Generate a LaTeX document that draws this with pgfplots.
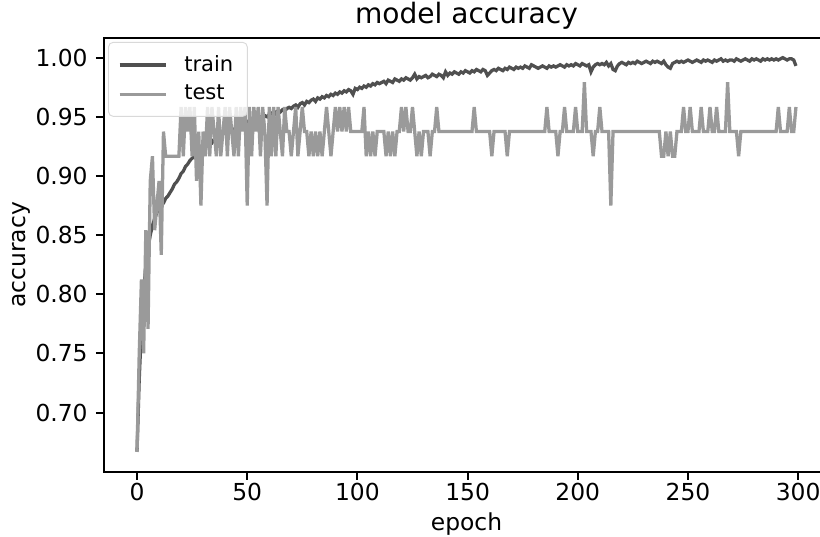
\documentclass[border=0pt]{standalone}
\usepackage{fontspec}
\setmainfont{DejaVu Sans}
\usepackage{pgfplots}
\pgfplotsset{compat=1.18}

\definecolor{trainc}{HTML}{505050}
\definecolor{testc}{HTML}{9A9A9A}

\begin{document}
\begin{tikzpicture}
\begin{axis}[
  scale only axis,
  width=309.9pt, height=185.5pt,
  xmin=-14.95, xmax=313.95, ymin=0.65, ymax=1.0167,
  xtick={0,50,...,300},
  ytick={0.70,0.75,...,1.00},
  yticklabel style={/pgf/number format/.cd, fixed, fixed zerofill, precision=2},
  xticklabel style={yshift=2pt},
  /pgf/number format/assume math mode=true,
  tick label style={font=\fontsize{10}{12}\selectfont},
  label style={font=\fontsize{10}{12}\selectfont},
  xlabel={epoch}, ylabel={accuracy},
  xlabel style={at={([yshift=-25pt]axis description cs:0.5,0)}, anchor=base},
  ylabel style={at={([xshift=-33.4pt]axis description cs:0,0.5)}, anchor=base},
  title={model accuracy},
  every axis title shift=0pt,
  title style={font=\fontsize{12}{14}\selectfont, at={(0.5,1)}, anchor=base, yshift=6pt},
  tick align=outside, xtick pos=bottom, ytick pos=left,
  major tick length=3.5pt,
  every tick/.style={black, line width=0.8pt},
  axis line style={line width=0.8pt},
  legend style={at={(axis description cs:0,1)}, anchor=north west,
    xshift=1.7pt, yshift=-1.7pt, draw=black!15,
    rounded corners=2pt, fill=white, fill opacity=0.8, text opacity=1,
    font=\fontsize{9}{11}\selectfont, inner xsep=4pt, inner ysep=3.5pt,
    row sep=0.5pt},
  legend cell align=left,
  legend image code/.code={\draw[#1] (0pt,0pt) -- (20pt,0pt); \path (25pt,0pt);},
]
% train accuracy
\addplot[trainc, line width=1.4pt] coordinates {
(0,0.667)(1,0.728)(2,0.772)(3,0.803)(4,0.824)(5,0.839)(6,0.850)(7,0.858)(8,0.864)(9,0.869)
(10,0.872)(11,0.875)(12,0.877)(13,0.881)(14,0.883)(15,0.886)(16,0.889)(17,0.893)(18,0.895)(19,0.898)
(20,0.902)(21,0.904)(22,0.908)(23,0.910)(24,0.913)(25,0.915)(26,0.916)(27,0.919)(28,0.921)(29,0.922)
(30,0.924)(31,0.925)(32,0.927)(33,0.929)(34,0.928)(35,0.931)(36,0.932)(37,0.934)(38,0.933)(39,0.936)
(40,0.937)(41,0.936)(42,0.939)(43,0.940)(44,0.939)(45,0.941)(46,0.942)(47,0.944)(48,0.943)(49,0.945)
(50,0.946)(51,0.945)(52,0.947)(53,0.948)(54,0.947)(55,0.949)(56,0.950)(57,0.949)(58,0.951)(59,0.950)
(60,0.952)(61,0.953)(62,0.951)(63,0.954)(64,0.955)(65,0.954)(66,0.956)(67,0.955)(68,0.957)(69,0.958)
(70,0.957)(71,0.959)(72,0.960)(73,0.958)(74,0.961)(75,0.962)(76,0.960)(77,0.963)(78,0.962)(79,0.964)
(80,0.965)(81,0.963)(82,0.966)(83,0.965)(84,0.967)(85,0.966)(86,0.968)(87,0.967)(88,0.969)(89,0.968)
(90,0.970)(91,0.969)(92,0.971)(93,0.970)(94,0.972)(95,0.971)(96,0.973)(97,0.972)(98,0.969)(99,0.974)
(100,0.973)(101,0.975)(102,0.974)(103,0.976)(104,0.975)(105,0.977)(106,0.976)(107,0.978)(108,0.977)(109,0.979)
(110,0.978)(111,0.979)(112,0.980)(113,0.978)(114,0.981)(115,0.980)(116,0.979)(117,0.982)(118,0.981)(119,0.980)
(120,0.982)(121,0.981)(122,0.983)(123,0.982)(124,0.981)(125,0.983)(126,0.986)(127,0.982)(128,0.984)(129,0.983)
(130,0.984)(131,0.985)(132,0.983)(133,0.984)(134,0.986)(135,0.985)(136,0.984)(137,0.986)(138,0.985)(139,0.983)
(140,0.988)(141,0.985)(142,0.987)(143,0.986)(144,0.988)(145,0.987)(146,0.986)(147,0.988)(148,0.987)(149,0.989)
(150,0.988)(151,0.987)(152,0.989)(153,0.988)(154,0.990)(155,0.989)(156,0.988)(157,0.990)(158,0.989)(159,0.985)
(160,0.987)(161,0.989)(162,0.990)(163,0.989)(164,0.991)(165,0.990)(166,0.989)(167,0.991)(168,0.990)(169,0.992)
(170,0.991)(171,0.990)(172,0.992)(173,0.991)(174,0.992)(175,0.991)(176,0.993)(177,0.992)(178,0.991)(179,0.994)
(180,0.993)(181,0.992)(182,0.991)(183,0.992)(184,0.993)(185,0.992)(186,0.991)(187,0.993)(188,0.992)(189,0.993)
(190,0.992)(191,0.993)(192,0.994)(193,0.993)(194,0.992)(195,0.994)(196,0.993)(197,0.994)(198,0.993)(199,0.995)
(200,0.994)(201,0.993)(202,0.995)(203,0.994)(204,0.993)(205,0.994)(206,0.988)(207,0.992)(208,0.994)(209,0.995)
(210,0.994)(211,0.995)(212,0.994)(213,0.996)(214,0.993)(215,0.995)(216,0.990)(217,0.989)(218,0.993)(219,0.995)
(220,0.996)(221,0.995)(222,0.994)(223,0.996)(224,0.995)(225,0.996)(226,0.995)(227,0.997)(228,0.996)(229,0.995)
(230,0.996)(231,0.997)(232,0.996)(233,0.995)(234,0.997)(235,0.996)(236,0.997)(237,0.996)(238,0.995)(239,0.997)
(240,0.994)(241,0.992)(242,0.991)(243,0.995)(244,0.996)(245,0.997)(246,0.996)(247,0.997)(248,0.996)(249,0.997)
(250,0.998)(251,0.997)(252,0.996)(253,0.997)(254,0.998)(255,0.997)(256,0.996)(257,0.998)(258,0.997)(259,0.998)
(260,0.997)(261,0.996)(262,0.998)(263,0.997)(264,0.998)(265,0.999)(266,0.997)(267,0.998)(268,0.997)(269,0.998)
(270,0.998)(271,0.997)(272,0.999)(273,0.998)(274,0.997)(275,0.998)(276,0.999)(277,0.998)(278,0.997)(279,0.999)
(280,0.998)(281,0.999)(282,0.998)(283,0.997)(284,0.999)(285,0.998)(286,0.999)(287,0.998)(288,0.999)(289,0.998)
(290,0.999)(291,0.998)(292,0.999)(293,1.000)(294,0.999)(295,0.998)(296,0.999)(297,0.999)(298,0.998)(299,0.993)
};
\addlegendentry{train}
% test accuracy
\addplot[testc, line width=1.4pt] coordinates {
(0,0.6667)(1,0.7500)(2,0.8125)(3,0.7500)(4,0.8542)(5,0.7708)(6,0.8958)(7,0.9167)(8,0.8542)(9,0.8750)
(10,0.8958)(11,0.8333)(12,0.9375)(13,0.9167)(14,0.9167)(15,0.9167)(16,0.9167)(17,0.9167)(18,0.9167)(19,0.9167)
(20,0.9583)(21,0.9167)(22,0.9583)(23,0.9375)(24,0.9583)(25,0.9167)(26,0.9583)(27,0.8958)(28,0.9375)(29,0.8750)
(30,0.9375)(31,0.9167)(32,0.9583)(33,0.9167)(34,0.9583)(35,0.9375)(36,0.9167)(37,0.9583)(38,0.9167)(39,0.9375)
(40,0.9583)(41,0.9167)(42,0.9583)(43,0.9375)(44,0.9167)(45,0.9583)(46,0.9167)(47,0.9583)(48,0.9375)(49,0.9583)
(50,0.8750)(51,0.9583)(52,0.9167)(53,0.9583)(54,0.9375)(55,0.9583)(56,0.9167)(57,0.9583)(58,0.9375)(59,0.8750)
(60,0.9583)(61,0.9167)(62,0.9583)(63,0.9167)(64,0.9583)(65,0.9375)(66,0.9167)(67,0.9583)(68,0.9375)(69,0.9375)
(70,0.9167)(71,0.9375)(72,0.9583)(73,0.9167)(74,0.9375)(75,0.9583)(76,0.9375)(77,0.9375)(78,0.9167)(79,0.9375)
(80,0.9167)(81,0.9375)(82,0.9167)(83,0.9375)(84,0.9167)(85,0.9375)(86,0.9583)(87,0.9375)(88,0.9167)(89,0.9375)
(90,0.9583)(91,0.9375)(92,0.9583)(93,0.9375)(94,0.9583)(95,0.9375)(96,0.9583)(97,0.9375)(98,0.9375)(99,0.9375)
(100,0.9375)(101,0.9375)(102,0.9375)(103,0.9583)(104,0.9167)(105,0.9375)(106,0.9167)(107,0.9375)(108,0.9167)(109,0.9375)
(110,0.9375)(111,0.9375)(112,0.9375)(113,0.9167)(114,0.9375)(115,0.9167)(116,0.9375)(117,0.9167)(118,0.9375)(119,0.9375)
(120,0.9583)(121,0.9375)(122,0.9583)(123,0.9375)(124,0.9375)(125,0.9583)(126,0.9375)(127,0.9167)(128,0.9375)(129,0.9167)
(130,0.9375)(131,0.9375)(132,0.9375)(133,0.9167)(134,0.9375)(135,0.9375)(136,0.9583)(137,0.9375)(138,0.9375)(139,0.9375)
(140,0.9375)(141,0.9375)(142,0.9375)(143,0.9375)(144,0.9375)(145,0.9375)(146,0.9375)(147,0.9375)(148,0.9375)(149,0.9375)
(150,0.9375)(151,0.9375)(152,0.9375)(153,0.9583)(154,0.9375)(155,0.9375)(156,0.9375)(157,0.9375)(158,0.9375)(159,0.9375)
(160,0.9375)(161,0.9167)(162,0.9375)(163,0.9375)(164,0.9375)(165,0.9375)(166,0.9375)(167,0.9375)(168,0.9167)(169,0.9375)
(170,0.9375)(171,0.9375)(172,0.9375)(173,0.9375)(174,0.9375)(175,0.9375)(176,0.9375)(177,0.9375)(178,0.9375)(179,0.9375)
(180,0.9375)(181,0.9375)(182,0.9375)(183,0.9375)(184,0.9375)(185,0.9375)(186,0.9583)(187,0.9375)(188,0.9375)(189,0.9375)
(190,0.9375)(191,0.9167)(192,0.9375)(193,0.9375)(194,0.9583)(195,0.9375)(196,0.9375)(197,0.9375)(198,0.9375)(199,0.9583)
(200,0.9375)(201,0.9375)(202,0.9375)(203,0.9792)(204,0.9375)(205,0.9375)(206,0.9375)(207,0.9167)(208,0.9375)(209,0.9375)
(210,0.9583)(211,0.9375)(212,0.9375)(213,0.9375)(214,0.9375)(215,0.8750)(216,0.9375)(217,0.9375)(218,0.9375)(219,0.9375)
(220,0.9375)(221,0.9375)(222,0.9375)(223,0.9375)(224,0.9375)(225,0.9375)(226,0.9375)(227,0.9375)(228,0.9375)(229,0.9375)
(230,0.9375)(231,0.9375)(232,0.9375)(233,0.9375)(234,0.9375)(235,0.9375)(236,0.9375)(237,0.9375)(238,0.9167)(239,0.9167)
(240,0.9375)(241,0.9167)(242,0.9375)(243,0.9167)(244,0.9167)(245,0.9375)(246,0.9375)(247,0.9375)(248,0.9583)(249,0.9375)
(250,0.9375)(251,0.9583)(252,0.9375)(253,0.9375)(254,0.9375)(255,0.9375)(256,0.9583)(257,0.9375)(258,0.9375)(259,0.9375)
(260,0.9583)(261,0.9375)(262,0.9375)(263,0.9583)(264,0.9375)(265,0.9375)(266,0.9375)(267,0.9375)(268,0.9792)(269,0.9375)
(270,0.9375)(271,0.9375)(272,0.9375)(273,0.9167)(274,0.9375)(275,0.9375)(276,0.9375)(277,0.9375)(278,0.9375)(279,0.9375)
(280,0.9375)(281,0.9375)(282,0.9375)(283,0.9375)(284,0.9375)(285,0.9375)(286,0.9375)(287,0.9375)(288,0.9375)(289,0.9375)
(290,0.9375)(291,0.9583)(292,0.9375)(293,0.9375)(294,0.9375)(295,0.9375)(296,0.9583)(297,0.9375)(298,0.9375)(299,0.9583)
};
\addlegendentry{test}
\end{axis}
% the reference image is cut just short of the right spine
\pgfresetboundingbox
\path[use as bounding box]
  ([shift={(-44.5pt,-27.8pt)}]current axis.south west)
  rectangle ([shift={(-3.8pt,16.2pt)}]current axis.north east);
\end{tikzpicture}
\end{document}
